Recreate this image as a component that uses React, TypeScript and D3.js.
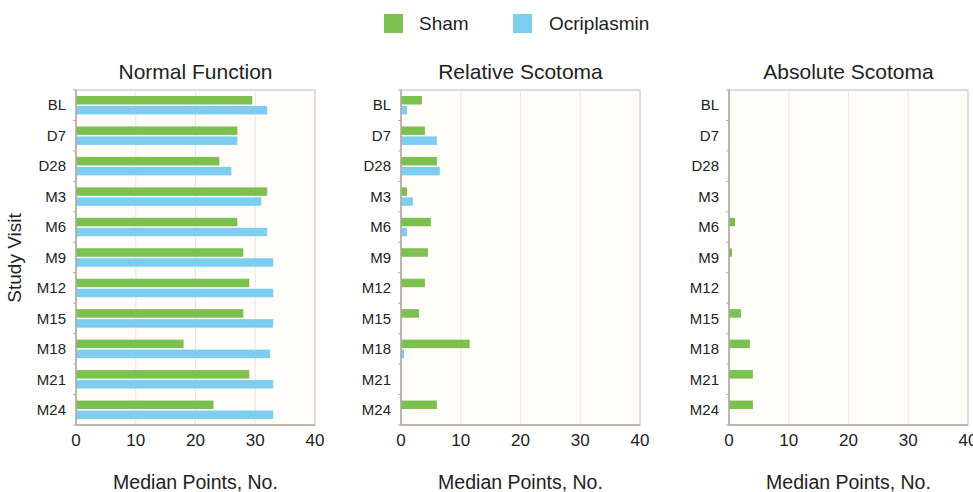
import React from 'react';
import * as d3 from 'd3';

const visits = ['BL', 'D7', 'D28', 'M3', 'M6', 'M9', 'M12', 'M15', 'M18', 'M21', 'M24'];

const normalSham = [29.5, 27, 24, 32, 27, 28, 29, 28, 18, 29, 23];
const normalOcri = [32, 27, 26, 31, 32, 33, 33, 33, 32.5, 33, 33];

const relativeSham = [3.5, 4, 6, 1, 5, 4.5, 4, 3, 11.5, 0, 6];
const relativeOcri = [1, 6, 6.5, 2, 1, 0, 0, 0, 0.5, 0, 0];

const absoluteSham = [0, 0, 0, 0, 1, 0.5, 0, 2, 3.5, 4, 4];
const absoluteOcri = [0, 0, 0, 0, 0, 0, 0, 0, 0, 0, 0];

const xTicks = [0, 10, 20, 30, 40];

const GREEN = '#7cc04f';
const BLUE = '#7ccdf0';
const FONT = '"Liberation Sans", Arial, Helvetica, sans-serif';

const panels = [
  { title: 'Normal Function', left: 76, sham: normalSham, ocri: normalOcri },
  { title: 'Relative Scotoma', left: 401, sham: relativeSham, ocri: relativeOcri },
  { title: 'Absolute Scotoma', left: 729, sham: absoluteSham, ocri: absoluteOcri },
];

const top = 90;
const bottom = 425;
const plotW = 239;

const Panel = ({ title, left, sham, ocri }) => {
  const x = d3.scaleLinear().domain([0, 40]).range([left, left + plotW]);
  const y = d3.scaleBand().domain(visits).range([top, bottom]);
  const sub = d3.scaleBand()
    .domain(['sham', 'ocri'])
    .range([0, y.bandwidth()])
    .paddingInner(0.15)
    .paddingOuter(0.6);

  return (
    <g>
      <rect x={left} y={top} width={plotW} height={bottom - top} fill="#fffcf9" stroke="#cfc6bf" strokeWidth={1.2} />
      {xTicks.slice(1, -1).map(t => (
        <line key={t} x1={x(t)} x2={x(t)} y1={top} y2={bottom} stroke="#ece4de" strokeWidth={1} />
      ))}
      {visits.map((v, i) => (
        <g key={v}>
          <rect x={x(0)} y={y(v) + sub('sham')} width={x(sham[i]) - x(0)} height={sub.bandwidth()} fill={GREEN} />
          <rect x={x(0)} y={y(v) + sub('ocri')} width={x(ocri[i]) - x(0)} height={sub.bandwidth()} fill={BLUE} />
          <text x={left - 10} y={y(v) + y.bandwidth() / 2} dy="0.35em" textAnchor="end" fontSize={15} fill="#222">{v}</text>
        </g>
      ))}
      {visits.map(v => (
        <line key={'t' + v} x1={left - 3} x2={left} y1={y(v)} y2={y(v)} stroke="#b3a9a2" />
      ))}
      <line x1={left - 3} x2={left} y1={bottom} y2={bottom} stroke="#b3a9a2" />
      <line x1={left} x2={left} y1={top} y2={bottom} stroke="#b3a9a2" strokeWidth={1.5} />
      <line x1={left} x2={left + plotW} y1={bottom} y2={bottom} stroke="#b3a9a2" strokeWidth={1.5} />
      {xTicks.map(t => (
        <text key={t} x={x(t)} y={446} textAnchor="middle" fontSize={17} fill="#222">{t}</text>
      ))}
      <text x={left + plotW / 2} y={79} textAnchor="middle" fontSize={21} fill="#222">{title}</text>
      <text x={left + plotW / 2} y={489} textAnchor="middle" fontSize={19.5} fill="#222">Median Points, No.</text>
    </g>
  );
};

export default function App() {
  return (
    <svg width={973} height={492} style={{ position: 'absolute', left: 0, top: 0, background: '#fff' }} fontFamily={FONT}>
      <rect x={0} y={0} width={973} height={492} fill="#fff" />
      <rect x={384} y={14} width={19} height={19} fill={GREEN} />
      <text x={419} y={30} fontSize={19} fill="#222">Sham</text>
      <rect x={513} y={14} width={19} height={19} fill={BLUE} />
      <text x={549} y={30} fontSize={19} fill="#222">Ocriplasmin</text>
      <text transform="translate(21,258) rotate(-90)" textAnchor="middle" fontSize={19} fill="#222">Study Visit</text>
      {panels.map(p => (
        <Panel key={p.title} {...p} />
      ))}
    </svg>
  );
}
